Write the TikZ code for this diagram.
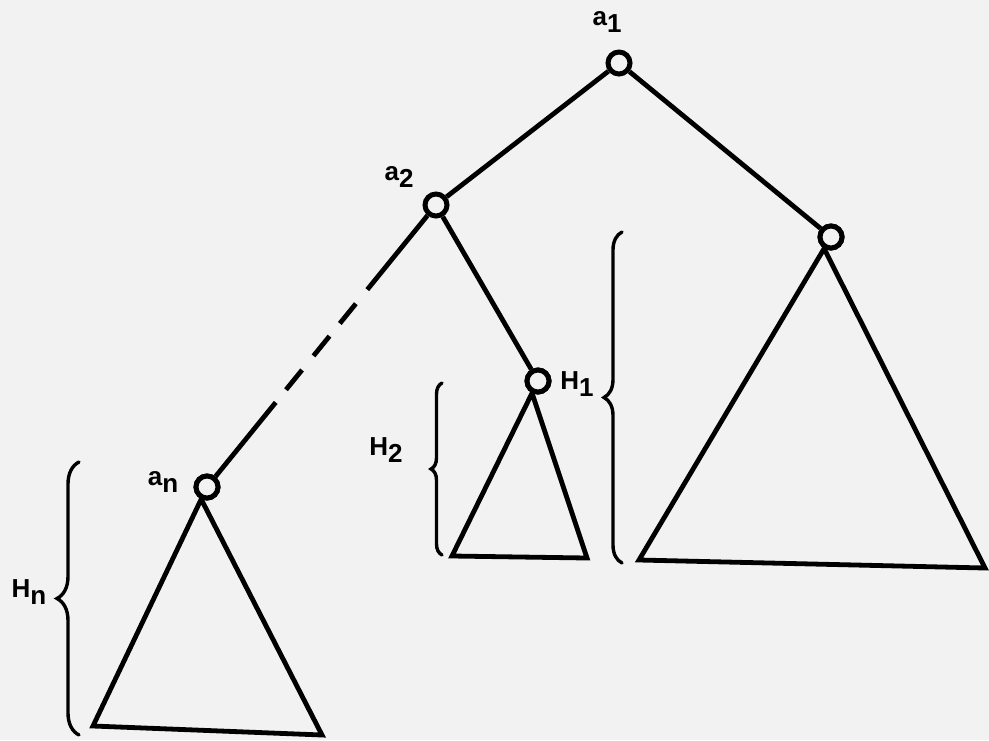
\documentclass[tikz,border=0pt]{standalone}
\usepackage{fontspec}
\setmainfont{Liberation Sans}
\usetikzlibrary{calc,decorations.pathreplacing}
\definecolor{paper}{HTML}{F2F2F2}
\newcommand{\lbl}[2]{\bfseries #1\raisebox{-7pt}{#2}}
\begin{document}
\begin{tikzpicture}[x=1pt,y=-1pt,
  vert/.style={circle,draw,line width=5pt,minimum size=22pt,inner sep=0pt,fill=paper},
  edge/.style={line width=4.8pt},
  tri/.style={line width=4.8pt,line join=miter},
  lab/.style={font=\fontsize{26}{28}\selectfont,inner sep=0pt},
  bracestyle/.style={line width=3.4pt,line cap=round,decorate,decoration={brace,amplitude=#1,aspect=0.5}}]
\useasboundingbox[fill=paper] (0,0) rectangle (989,740);
% vertices
\node[vert] (a1) at (619,63) {};
\node[vert] (a2) at (436,205) {};
\node[vert] (r) at (831,237) {};
\node[vert] (m) at (538,381) {};
\node[vert] (an) at (207,487) {};
% edges
\draw[edge] (a1) -- (a2);
\draw[edge] (a1) -- (r);
\draw[edge] (a2) -- (m);
\coordinate (p0) at ($(a2)!0.30!(an)$);
\coordinate (d1a) at ($(a2)!0.35!(an)$);
\coordinate (d1b) at ($(a2)!0.42!(an)$);
\coordinate (d2a) at ($(a2)!0.465!(an)$);
\coordinate (d2b) at ($(a2)!0.535!(an)$);
\coordinate (d3a) at ($(a2)!0.585!(an)$);
\coordinate (d3b) at ($(a2)!0.655!(an)$);
\coordinate (p1) at ($(a2)!0.70!(an)$);
\draw[edge] (a2) -- (p0);
\draw[edge] (d1a) -- (d1b);
\draw[edge] (d2a) -- (d2b);
\draw[edge] (d3a) -- (d3b);
\draw[edge] (p1) -- (an);
% triangles
\coordinate (rl) at (639,560);
\coordinate (rr) at (985,568);
\coordinate (ml) at (452,556);
\coordinate (mr) at (587,558);
\coordinate (nl) at (93,726);
\coordinate (nr) at (322,735);
\draw[tri] (r) -- (rl) -- (rr) -- cycle;
\draw[tri] (m) -- (ml) -- (mr) -- cycle;
\draw[tri] (an) -- (nl) -- (nr) -- cycle;
\node[vert] at (r) {};
\node[vert] at (m) {};
\node[vert] at (an) {};
% braces
\coordinate (bnb) at (79,735);
\coordinate (bnt) at (79,462);
\coordinate (b2b) at (442,555);
\coordinate (b2t) at (442,383);
\coordinate (b1b) at (622,563);
\coordinate (b1t) at (622,232);
\draw[bracestyle=22] (bnb) -- (bnt);
\draw[bracestyle=11] (b2b) -- (b2t);
\draw[bracestyle=18] (b1b) -- (b1t);
% labels
\node[lab] (la1) at (607,22) {\lbl{a}{1}};
\node[lab] (la2) at (399,177) {\lbl{a}{2}};
\node[lab] (lan) at (163,482) {\lbl{a}{n}};
\node[lab] (lH1) at (577,384) {\lbl{H}{1}};
\node[lab] (lH2) at (386,450) {\lbl{H}{2}};
\node[lab] (lHn) at (29,592) {\lbl{H}{n}};
\end{tikzpicture}
\end{document}
